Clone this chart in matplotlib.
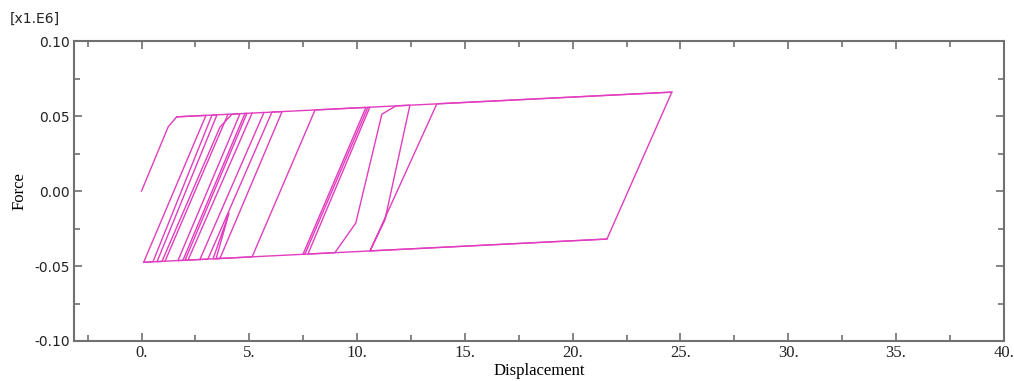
import matplotlib
matplotlib.use("Agg")
import matplotlib.pyplot as plt
from matplotlib.ticker import MultipleLocator, FixedLocator

# hysteresis path (force in x1.E6)
displacement = [0.0, 1.24, 1.63, 2.99, 0.10, 0.53, 3.27, 3.50, 0.72, 0.95, 3.64, 4.20,
                4.57, 1.69, 1.92, 4.80, 4.89, 2.02, 3.08, 6.05, 6.52, 3.64, 3.32, 4.06,
                3.46, 5.13, 8.05, 10.41, 7.49, 7.58, 10.50, 10.59, 7.72, 8.97, 9.94,
                11.15, 11.80, 12.45, 11.29, 10.60, 13.70, 24.60, 21.59, 10.60]
force = [0.0, 0.0429, 0.0495, 0.0505, -0.0475, -0.0472, 0.0507, 0.0508, -0.0471, -0.0469,
         0.0427, 0.0513, 0.0516, -0.0464, -0.0462, 0.0518, 0.0518, -0.0461, -0.0454,
         0.0527, 0.0530, -0.0449, -0.0452, -0.0147, -0.0451, -0.0439, 0.0541, 0.0558,
         -0.0422, -0.0421, 0.0558, 0.0559, -0.0420, -0.0411, -0.0213, 0.0513, 0.0568,
         0.0573, -0.0193, -0.0399, 0.0582, 0.0660, -0.0320, -0.0399]

# envelopes (yield plateaus)
upper_disp = [1.63, 24.60]
upper_force = [0.0495, 0.0660]
lower_disp = [0.10, 21.59]
lower_force = [-0.0475, -0.0320]

# further reload branches in the dense part: (bottom, top)
extra_disp = [(1.09, 4.01), (2.16, 5.13), (2.71, 5.68)]
extra_force = [(-0.0468, 0.0512), (-0.0460, 0.0520), (-0.0456, 0.0524)]

x_ticks = [0, 5, 10, 15, 20, 25, 30, 35, 40]
x_labels = ["0.", "5.", "10.", "15.", "20.", "25.", "30.", "35.", "40."]
y_ticks = [-0.10, -0.05, 0.0, 0.05, 0.10]
y_labels = ["-0.10", "-0.05", "0.00", "0.05", "0.10"]

line_color = "#e23dbe"

fig = plt.figure(figsize=(10.14, 3.81), dpi=100)
ax = fig.add_axes([0.073, 0.105, 0.917, 0.787])

ax.plot(displacement, force, color=line_color, lw=1.0)
ax.plot(upper_disp, upper_force, color=line_color, lw=1.0)
ax.plot(lower_disp, lower_force, color=line_color, lw=1.0)
for d, f in zip(extra_disp, extra_force):
    ax.plot(d, f, color=line_color, lw=1.0)

ax.set_xlim(-3.13, 40)
ax.set_ylim(-0.1, 0.1)
ax.xaxis.set_major_locator(FixedLocator(x_ticks))
ax.set_xticklabels(x_labels, family="Liberation Serif", fontsize=12)
ax.xaxis.set_minor_locator(MultipleLocator(2.5))
ax.yaxis.set_major_locator(FixedLocator(y_ticks))
ax.set_yticklabels(y_labels, family="DejaVu Sans", fontsize=10)
ax.yaxis.set_minor_locator(MultipleLocator(0.025))

ax.tick_params(which="both", direction="in", top=True, right=True,
               color="#707070", labelcolor="#222222", width=1.2)
ax.tick_params(which="major", length=6, pad=3)
ax.tick_params(which="minor", length=4)
for s in ax.spines.values():
    s.set_color("#707070")
    s.set_linewidth(1.5)

ax.set_xlabel("Displacement", family="Liberation Serif", fontsize=12, labelpad=1)
ax.set_ylabel("Force", family="Liberation Serif", fontsize=12, labelpad=5)
fig.text(0.010, 0.950, "[x1.E6]", family="DejaVu Sans", fontsize=10, color="#222222",
         va="center")

fig.savefig("out.png", dpi=100)
